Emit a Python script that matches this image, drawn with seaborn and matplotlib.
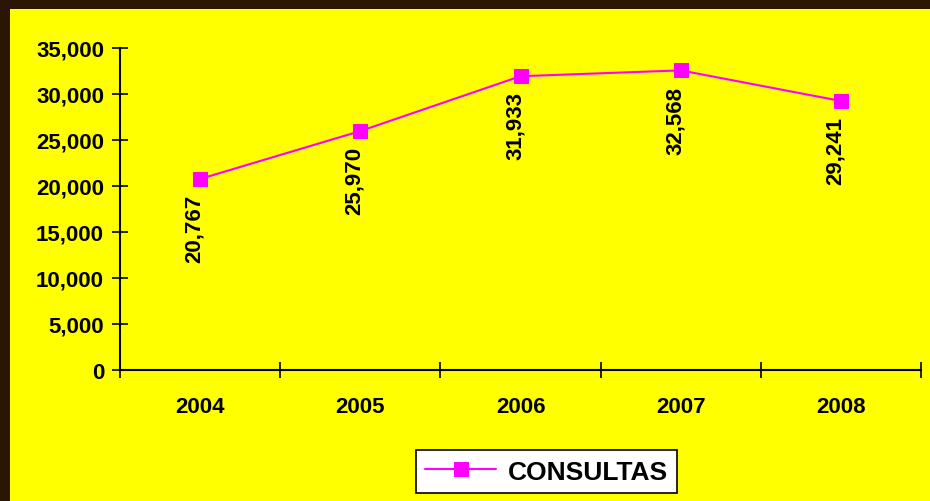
import matplotlib

matplotlib.use("Agg")
import matplotlib.pyplot as plt
import numpy as np
import pandas as pd
import seaborn as sns
from matplotlib.patches import Rectangle
from matplotlib.ticker import FuncFormatter

years = ["2004", "2005", "2006", "2007", "2008"]
consultas = [20767, 25970, 31933, 32568, 29241]
series_name = "CONSULTAS"

YELLOW = "#ffff00"
BORDER = "#2b1606"
MAGENTA = "#ff00ff"

sns.set_style("ticks")
plt.rcParams["font.family"] = ["Liberation Sans", "DejaVu Sans"]
plt.rcParams["font.weight"] = "bold"
plt.rcParams["text.color"] = "black"
plt.rcParams["xtick.color"] = "black"
plt.rcParams["ytick.color"] = "black"

W, H = 930, 502
fig = plt.figure(figsize=(W / 100, H / 100), dpi=100)
fig.patch.set_facecolor(BORDER)
fig.patches.append(Rectangle((10 / W, 0), (W - 10) / W, (H - 10) / H,
                             transform=fig.transFigure, facecolor=YELLOW,
                             edgecolor="none", zorder=-5))
ax = fig.add_axes([120 / W, (H - 371) / H, (921 - 120) / W, (371 - 49) / H])
ax.set_facecolor(YELLOW)

df = pd.DataFrame({"year": years, "value": consultas})
sns.lineplot(data=df, x="year", y="value", ax=ax, color=MAGENTA,
             linewidth=1.5, marker="s", markersize=10,
             markeredgecolor=MAGENTA, label=series_name, sort=False)

for i, v in enumerate(consultas):
    ax.annotate(f"{v:,}", (i, v), xytext=(-4, -11), textcoords="offset points",
                rotation=90, ha="center", va="top", fontsize=16,
                fontweight="bold", color="black")

ax.set_ylim(0, 35000)
ax.set_yticks(np.arange(0, 35001, 5000))
ax.yaxis.set_major_formatter(FuncFormatter(lambda v, _: f"{int(v):,}"))
ax.set_xlim(-0.5, len(years) - 0.5)
ax.set_xticks(np.arange(-0.5, len(years)), labels=[""] * (len(years) + 1))
ax.set_xticks(np.arange(len(years)), labels=years, minor=True)
ax.tick_params(axis="both", which="major", direction="inout", length=11,
               width=1.2, color="black", labelcolor="black")
ax.tick_params(axis="y", labelsize=16, pad=6)
ax.tick_params(axis="x", which="minor", length=0, labelsize=16, pad=19,
               labelcolor="black")
ax.set_xlabel("")
ax.set_ylabel("")
for side in ("top", "right"):
    ax.spines[side].set_visible(False)
for side in ("left", "bottom"):
    ax.spines[side].set_linewidth(1.5)
    ax.spines[side].set_color("black")

leg = ax.legend(loc="center", bbox_to_anchor=(546.5 / W, 1 - 472.5 / H),
                bbox_transform=fig.transFigure, frameon=True, fancybox=False,
                edgecolor="black", framealpha=1, facecolor="white",
                prop={"size": 19, "weight": "bold"}, handlelength=2.7,
                borderpad=0.35, handletextpad=0.45, borderaxespad=0)
leg.get_frame().set_linewidth(1.2)
for t in leg.get_texts():
    t.set_color("black")

fig.savefig("out.png", dpi=100, facecolor=fig.get_facecolor())
